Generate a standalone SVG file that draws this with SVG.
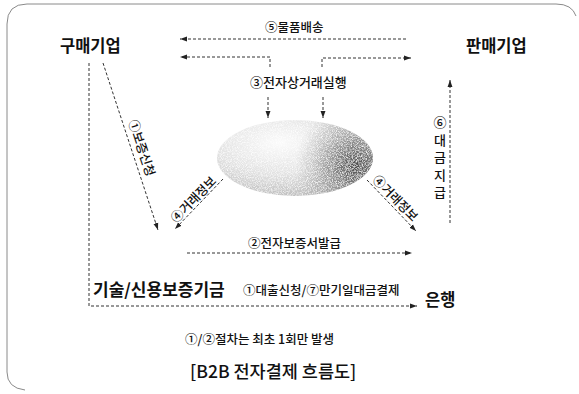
<svg xmlns="http://www.w3.org/2000/svg" width="579" height="394" viewBox="0 0 579 394">
<style>
text{font-family:"Noto Sans CJK KR","Noto Sans",sans-serif;fill:#111}
.h{font-size:16.5px;font-weight:700}
.s{font-size:12.5px;font-weight:500}
.c{fill:none;stroke:#333;stroke-width:1;stroke-dasharray:3 2}
</style>
<defs>
<marker id="ah" viewBox="0 0 10 10" refX="10" refY="5" markerWidth="7" markerHeight="7" markerUnits="userSpaceOnUse" orient="auto">
<path d="M0,1.5 L10,5 L0,8.5 Z" fill="#222"/>
</marker>
<radialGradient id="light" cx="0.4" cy="0.3" r="0.75">
<stop offset="0" stop-color="#fbfbfb"/>
<stop offset="0.55" stop-color="#e2e2e2"/>
<stop offset="1" stop-color="#b9b9b9"/>
</radialGradient>
<radialGradient id="dark" cx="355" cy="165" r="60" gradientUnits="userSpaceOnUse">
<stop offset="0" stop-color="#3a3a3a" stop-opacity="0.9"/>
<stop offset="0.45" stop-color="#666" stop-opacity="0.55"/>
<stop offset="1" stop-color="#999" stop-opacity="0"/>
</radialGradient>
<filter id="grain" x="0" y="0" width="1" height="1">
<feTurbulence type="fractalNoise" baseFrequency="1.2" numOctaves="1" seed="3" result="n"/>
<feColorMatrix in="n" type="matrix" values="0 0 0 0 1  0 0 0 0 1  0 0 0 0 1  0 0 0 2.2 -0.9" result="w"/>
<feComposite in="w" in2="SourceGraphic" operator="in" result="wm"/>
<feMerge><feMergeNode in="SourceGraphic"/><feMergeNode in="wm"/></feMerge>
</filter>
</defs>

<path id="frame" d="M25,390 Q7,388 7,372 L7,24 Q7,4 27,4 L556,4 Q572,4 576,16" fill="none" stroke="#8a8a8a" stroke-width="1"/>

<g id="connectors">
<path class="c" d="M406,39 L180,39" marker-end="url(#ah)"/>
<path class="c" d="M270,67 L270,57 L180,57" marker-end="url(#ah)"/>
<path class="c" d="M322,67 L322,58 L411,58" marker-end="url(#ah)"/>
<path class="c" d="M268,97 L268,118" marker-end="url(#ah)"/>
<path class="c" d="M323,97 L323,118" marker-end="url(#ah)"/>
<path class="c" d="M103,63 L158,230" marker-end="url(#ah)"/>
<path class="c" d="M223,179 L175,229" marker-end="url(#ah)"/>
<path class="c" d="M367,180 L416,231" marker-end="url(#ah)"/>
<path class="c" d="M450,223 L450,80" marker-end="url(#ah)"/>
<path class="c" d="M187,253 L412,253" marker-end="url(#ah)"/>
<path class="c" d="M89,63 L89,306 L417,306" marker-end="url(#ah)"/>
</g>

<g id="ellipse" filter="url(#grain)">
<ellipse cx="295" cy="158" rx="78" ry="38" fill="url(#light)"/>
<ellipse cx="295" cy="158" rx="78" ry="38" fill="url(#dark)"/>
</g>

<g id="buyer"><text class="h" x="60" y="52">구매기업</text></g>
<g id="seller"><text class="h" x="466" y="52">판매기업</text></g>
<g id="fund"><text class="h" x="93" y="296" style="font-size:17px">기술/신용보증기금</text></g>
<g id="bank"><text class="h" x="425" y="306">은행</text></g>

<g id="labels">
<text class="s" x="265" y="32">⑤물품배송</text>
<text class="s" x="250" y="87" style="font-size:13px">③전자상거래실행</text>
<text class="s" x="248" y="247.5">②전자보증서발급</text>
<text class="s" x="243" y="294.5">①대출신청/⑦만기일대금결제</text>
<text class="s" transform="translate(137.5,149.3) rotate(71.6)" text-anchor="middle">①보증신청</text>
<text class="s" transform="translate(196.7,202.6) rotate(-45.6)" text-anchor="middle">④거래정보</text>
<text class="s" transform="translate(392.1,201.4) rotate(45.6)" text-anchor="middle">④거래정보</text>
<text class="s" x="440" y="116" style="font-size:13px;writing-mode:vertical-rl;text-orientation:upright;letter-spacing:4.5px">⑥대금지급</text>
<text class="s" x="185" y="344">①/②절차는 최초 1회만 발생</text>
<text x="190" y="378" style="font-size:17.5px;font-weight:500">[B2B 전자결제 흐름도]</text>
</g>
</svg>
